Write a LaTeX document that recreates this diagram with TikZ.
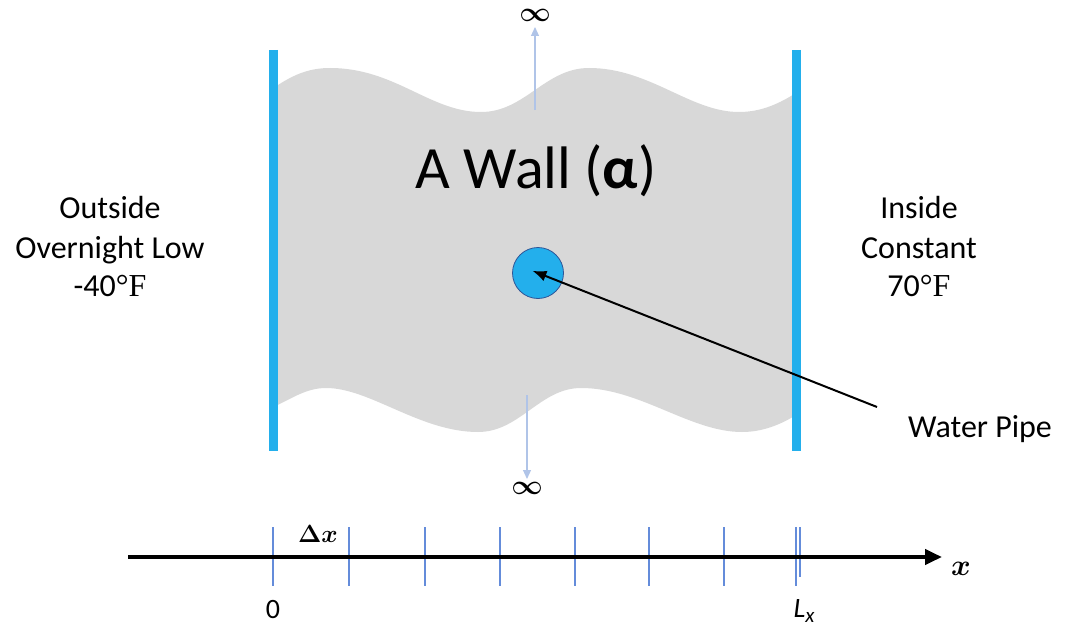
\documentclass[tikz,border=0pt]{standalone}
\usepackage{fontspec}
\setmainfont{Carlito}
\newfontfamily\serifF{Liberation Serif}
\usetikzlibrary{arrows.meta}
\definecolor{barblue}{RGB}{35,175,236}
\definecolor{wallgray}{RGB}{216,216,216}
\definecolor{infblue}{RGB}{176,196,232}
\definecolor{tickblue}{RGB}{100,140,218}
\definecolor{pipeedge}{RGB}{47,85,151}
\tikzset{
  sidetext/.style={inner sep=0pt, anchor=base, font=\fontsize{32}{38}\selectfont},
  infarrow/.style={draw=infblue, line width=1.2pt, -{Triangle[length=9pt,width=8pt]}},
  wallbar/.style={draw=barblue, line width=9pt},
  tickline/.style={draw=tickblue, line width=1.2pt},
  inflabel/.style={inner sep=0pt, font=\fontsize{24}{24}\selectfont},
}
\begin{document}
\begin{tikzpicture}[x=1pt,y=-1pt]
\useasboundingbox (0,0) rectangle (1065,626);
% wall
\fill[wallgray] (273,85) -- (278,85)
  .. controls (295,74) and (310,68) .. (330,68)
  .. controls (395,68) and (430,112) .. (481,112)
  .. controls (525,112) and (545,68) .. (589,68)
  .. controls (650,68) and (690,112) .. (739,112)
  .. controls (762,112) and (780,103) .. (796,93)
  -- (796,415)
  .. controls (780,425) and (762,432) .. (742,432)
  .. controls (690,432) and (640,388) .. (581,388)
  .. controls (540,388) and (520,432) .. (478,432)
  .. controls (420,432) and (370,388) .. (326,388)
  .. controls (305,388) and (290,400) .. (273,407) -- cycle;
\draw[wallbar] (273,50) -- (273,451);
\draw[wallbar] (796,50) -- (796,451);
% infinity arrows
\node[inflabel, anchor=base] (inftop) at (535,22) {\scalebox{1.1}{\boldmath$\infty$}};
\node[inflabel, anchor=base] (infbot) at (527,494) {\scalebox{1.1}{\boldmath$\infty$}};
\coordinate (uptail) at (535,110);
\coordinate (uptip) at (535,27);
\coordinate (dntail) at (527,395);
\coordinate (dntip) at (527,479);
\draw[infarrow] (uptail) -- (uptip);
\draw[infarrow] (dntail) -- (dntip);
% title
\node[inner sep=0pt, anchor=base, font=\fontsize{60}{62}\selectfont] (title) at (536,188) {A Wall (\textbf{α})};
% side texts
\node[sidetext] (out1) at (110,218) {Outside};
\node[sidetext] (out2) at (110,258) {Overnight Low};
\node[sidetext] (out3) at (110,296) {-40{\serifF °F}};
\node[sidetext] (in1) at (919,218) {Inside};
\node[sidetext] (in2) at (919,258) {Constant};
\node[sidetext] (in3) at (919,296) {70{\serifF °F}};
% pipe
\node[circle, minimum size=51pt, inner sep=0pt, fill=barblue, draw=pipeedge, line width=0.8pt] (pipe) at (538,273) {};
\node[sidetext, anchor=base west] (wp) at (908,437) {Water Pipe};
\coordinate (wpend) at (877,407);
\draw[line width=2pt, -{Latex[length=14pt,width=11pt]}, shorten >=-6pt] (wpend) -- (pipe.center);
% axis
\foreach \xx in {273,349,425,500,575,649,724,796} {
  \draw[tickline] (\xx,527) -- (\xx,586);
}
\draw[tickline] (800,527) -- (800,577);
\coordinate (axL) at (128,557);
\coordinate (axR) at (942,557);
\draw[line width=4pt, -{Triangle[length=17pt,width=15pt]}] (axL) -- (axR);
\node[inner sep=0pt, anchor=base, font=\fontsize{24}{24}\selectfont] (xlab) at (961,575) {\scalebox{1.2}{\boldmath$x$}};
\node[inner sep=0pt, anchor=base, font=\fontsize{24}{24}\selectfont] (dx) at (318,542) {\scalebox{1.0}{\boldmath$\Delta x$}};
\node[inner sep=0pt, anchor=base, font=\fontsize{28}{28}\selectfont] (zero) at (273,618) {0};
\node[inner sep=0pt, anchor=base, font=\fontsize{28}{28}\selectfont] (lx) at (804,617) {\textit{L}\raisebox{-5pt}{\fontsize{21}{21}\selectfont\textit{x}}};
\end{tikzpicture}
\end{document}
